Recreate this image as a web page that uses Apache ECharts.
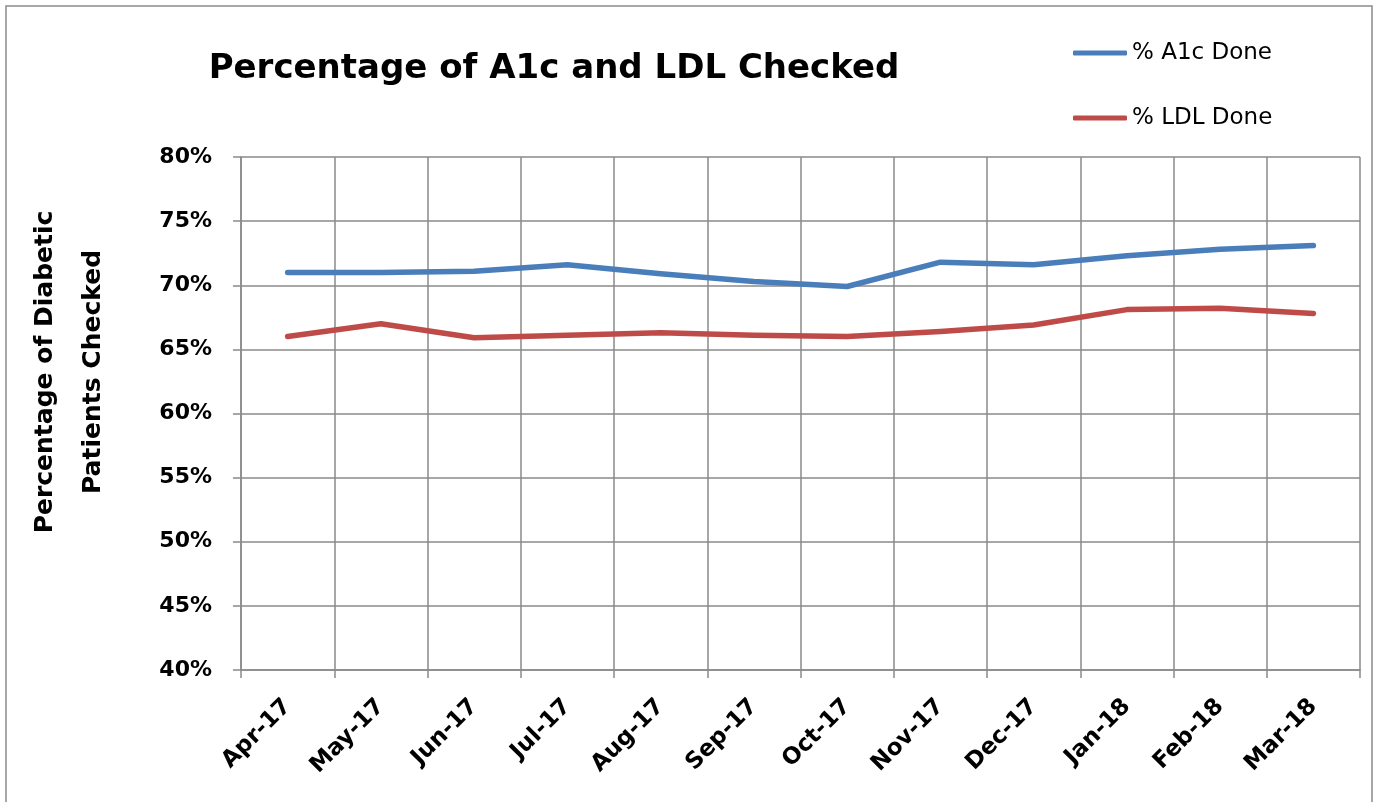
<!DOCTYPE html>
<html>
<head>
<meta charset="utf-8">
<title>Percentage of A1c and LDL Checked</title>
<script src="https://cdn.jsdelivr.net/npm/echarts/dist/echarts.min.js"></script>
<style>
  html, body { margin: 0; padding: 0; background: #fff; }
  #chart { width: 1379px; height: 802px; }
</style>
</head>
<body>
<div id="chart"></div>
<script>
  // data
  var months = ['Apr-17', 'May-17', 'Jun-17', 'Jul-17', 'Aug-17', 'Sep-17',
                'Oct-17', 'Nov-17', 'Dec-17', 'Jan-18', 'Feb-18', 'Mar-18'];
  var a1cDone = [71.0, 71.0, 71.1, 71.6, 70.9, 70.3, 69.9, 71.8, 71.6, 72.3, 72.8, 73.1];
  var ldlDone = [66.0, 67.0, 65.9, 66.1, 66.3, 66.1, 66.0, 66.4, 66.9, 68.1, 68.2, 67.8];
  var seriesNames = ['% A1c Done', '% LDL Done'];
  var yTitle = 'Percentage of Diabetic\nPatients Checked';

  var gridGray = '#8a8a8a';
  var font = 'DejaVu Sans';

  var myChart = echarts.init(document.getElementById('chart'));
  myChart.setOption({
    animation: false,
    title: {
      text: 'Percentage of A1c and LDL Checked',
      left: 549,
      top: 47,
      textAlign: 'center',
      textStyle: { fontFamily: font, fontSize: 34, fontWeight: 'bold', color: '#000' }
    },
    legend: {
      data: seriesNames,
      orient: 'vertical',
      left: 1068,
      top: 33,
      icon: 'roundRect',
      itemWidth: 54,
      itemHeight: 5,
      itemGap: 35,
      textStyle: { fontFamily: font, fontSize: 23, color: '#000', lineHeight: 30 }
    },
    grid: { left: 241, right: 19, top: 157, bottom: 132 },
    xAxis: {
      type: 'category',
      data: months,
      boundaryGap: true,
      axisLine: { lineStyle: { color: gridGray, width: 1.5 } },
      axisTick: { show: true, length: 8, lineStyle: { color: gridGray, width: 1.5 } },
      splitLine: { show: true, lineStyle: { color: gridGray, width: 1.5 } },
      axisLabel: {
        rotate: 45,
        margin: 33,
        interval: 0,
        fontFamily: font,
        fontSize: 23,
        fontWeight: 'bold',
        color: '#000'
      }
    },
    yAxis: {
      type: 'value',
      min: 40,
      max: 80,
      interval: 5,
      axisLine: { show: true, lineStyle: { color: gridGray, width: 1.5 } },
      axisTick: { show: true, length: 8, lineStyle: { color: gridGray, width: 1.5 } },
      splitLine: { show: true, lineStyle: { color: gridGray, width: 1.5 } },
      axisLabel: {
        formatter: '{value}%',
        margin: 29,
        fontFamily: font,
        fontSize: 22,
        fontWeight: 'bold',
        color: '#000'
      }
    },
    graphic: [
      {
        // outer chart border
        type: 'rect',
        shape: { x: 6, y: 6, width: 1366, height: 810 },
        style: { fill: 'none', stroke: gridGray, lineWidth: 1.5 },
        silent: true
      },
      {
        type: 'text',
        x: 69,
        y: 372,
        rotation: Math.PI / 2,
        style: {
          text: yTitle,
          fontFamily: font,
          fontSize: 25,
          fontWeight: 'bold',
          lineHeight: 48,
          fill: '#000',
          align: 'center',
          verticalAlign: 'middle'
        }
      }
    ],
    series: [
      {
        name: seriesNames[0],
        type: 'line',
        data: a1cDone,
        symbol: 'none',
        color: '#4A7EBB',
        lineStyle: { width: 5.5, color: '#4A7EBB', cap: 'round', join: 'round' }
      },
      {
        name: seriesNames[1],
        type: 'line',
        data: ldlDone,
        symbol: 'none',
        color: '#BE4B48',
        lineStyle: { width: 5.5, color: '#BE4B48', cap: 'round', join: 'round' }
      }
    ]
  });
</script>
</body>
</html>
